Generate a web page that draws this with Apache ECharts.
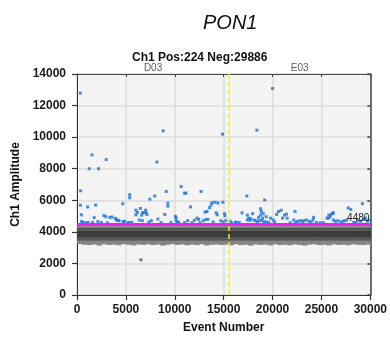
<!DOCTYPE html>
<html>
<head>
<meta charset="utf-8">
<script src="https://cdn.jsdelivr.net/npm/echarts@6/dist/echarts.min.js"></script>
<style>
html,body{margin:0;padding:0;background:#fff;}
#c{width:390px;height:339px;}
</style>
</head>
<body>
<div id="c"></div>
<script>
// ---- data ----
const xTicks = [0, 5000, 10000, 15000, 20000, 25000, 30000];
const yTicks = [0, 2000, 4000, 6000, 8000, 10000, 12000, 14000];
const threshold = 4480;
const wellBoundary = 15560;
const wellNames = ['D03', 'E03'];
const wellCenters = [7780, 22780];

// positive droplets (event number, amplitude)
const posX = [340,20000,8810,18400,14880,1525,2980,1250,2200,8170,
  370,10650,11000,11150,12680,9130,5390,5390,7450,7950,
  17370,19200,29190,4680,340,1090,1900,9290,9290,11610,
  13560,13730,13800,14100,14410,14920,27740,28000,
  440,470,640,920,1150,1590,1760,2140,2750,2950,
  3360,3590,3930,4030,4200,4300,4710,4880,5220,5320,
  6030,6030,6170,6480,6610,6710,6850,7020,7090,7150,
  6370,6680,7360,7600,8270,8980,10070,10140,10140,10270,
  10400,11320,11760,12000,12270,12440,12580,12920,13090,13190,
  13290,13390,13930,14240,14340,14710,14950,15090,15130,15220,
  15660,15800,16200,16340,16880,17420,17560,17420,17700,17770,
  17970,18100,18300,18440,18580,18640,18780,18780,18850,18920,
  18990,19050,19120,19320,19350,19800,20070,20210,20410,20610,
  20880,21020,21220,21430,21490,22170,22300,22370,22580,22850,
  23050,23190,23460,23730,23930,24130,24200,24880,25220,25560,
  25730,25760,25900,26000,26170,26200,26240,26440,26710,26980,
  27190,27390,27590,28750,29020,29290,29490,29700,29900,
  2500,3100,5600,8600,9600,11000,16600,19600,21800,24500,28300,28500];
const posY = [12790,13080,10400,10440,10190,8875,8580,8000,8000,8420,
  6600,6870,6440,6460,6560,6560,6360,6160,6070,6270,
  6270,6020,5780,5780,5690,5580,5700,5820,5630,5580,
  5540,5710,5850,5875,5830,5875,5520,5420,
  5080,4660,4600,4580,4600,4600,4900,4650,5040,4960,
  4920,4940,4850,4750,4730,4710,4650,4670,4580,4580,
  5375,5080,5230,5480,5060,5210,5230,5375,5210,5100,
  4750,4710,4620,4710,4810,5100,4980,4870,4710,4620,
  4600,4710,4580,4730,4870,4790,4580,4710,5250,4790,
  5290,4790,4620,5210,5080,4710,4620,5150,5020,4710,
  4670,4580,4620,4580,5210,5060,4870,4750,4730,4830,
  5150,4750,4710,4600,4920,4710,5460,5060,5290,4730,
  4870,5150,4600,4640,4960,4870,4750,4620,5100,5290,
  5370,4870,5060,5120,4870,4750,5290,4620,4670,4710,
  4620,4710,4750,4670,4620,4750,4920,4580,4580,4870,
  4870,5060,4960,5120,5170,5210,4750,4670,4710,4620,
  4670,4710,4750,4710,4670,4790,4870,4670,4750,
  4590,4580,4600,4590,4600,4580,4590,4600,4580,4590,4600,4580];

// negative droplets: binned band (bin start, bin end, ragged bottom edge)
const negBinStart = [0,500,1000,1500,2000,2500,3000,3500,4000,4500,5000,5500,6000,6500,7000,7500,8000,8500,9000,9500,
  10000,10500,11000,11500,12000,12500,13000,13500,14000,14500,15000,15500,16000,16500,17000,17500,18000,18500,19000,19500,
  20000,20500,21000,21500,22000,22500,23000,23500,24000,24500,25000,25500,26000,26500,27000,27500,28000,28500,29000,29500];
const negLow = [3250,3200,3180,3220,3150,3230,3190,3210,3170,3240,3200,3160,3220,3190,3230,3180,3210,3150,3200,3240,
  3190,3220,3170,3210,3180,3230,3160,3200,3220,3190,3210,3170,3240,3180,3200,3150,3220,3190,3210,3160,
  3230,3180,3200,3170,3220,3190,3150,3210,3230,3180,3200,3160,3220,3190,3210,3170,3230,3200,3180,3210];
const negLevels = [3450, 3650, 4100, 4300, 4420];
const negColors = ['#858585', '#595959', '#3b3b3b', '#565656', '#8f8f8f'];
const negOutX = [6540];
const negOutY = [2230];

// ---- chart ----
const chart = echarts.init(document.getElementById('c'), null, {renderer: 'canvas'});
const negData = negBinStart.map((s, i) => [s, s + 500, negLow[i]]);
const posData = posX.map((x, i) => [x, posY[i]]);
const negOut = negOutX.map((x, i) => [x, negOutY[i]]);
const wellData = wellNames.map((n, i) => ({name: n, value: [wellCenters[i], yTicks[yTicks.length - 1]]}));

const FONT = 'Liberation Sans, Arial, sans-serif';
const plain = v => String(v);

chart.setOption({
  animation: false,
  backgroundColor: '#ffffff',
  title: [
    {text: 'PON1', left: 198, top: 8, textStyle: {fontFamily: FONT, fontStyle: 'italic', fontWeight: 'normal', fontSize: 20, color: '#111'}},
    {text: 'Ch1 Pos:224 Neg:29886', left: 127, top: 47, textStyle: {fontFamily: FONT, fontWeight: 'bold', fontSize: 12, color: '#111'}}
  ],
  grid: {left: 77, right: 18, top: 74, bottom: 41, show: true, backgroundColor: '#f4f4f4', borderWidth: 0},
  xAxis: [
    {type: 'value', min: xTicks[0], max: xTicks[xTicks.length - 1], interval: 5000, position: 'bottom',
     axisLine: {show: true, onZero: false, lineStyle: {color: '#333', width: 1}},
     axisTick: {show: true, length: 5, lineStyle: {color: '#333', width: 1.2}},
     axisLabel: {fontFamily: FONT, fontWeight: 'bold', fontSize: 12, color: '#1a1a1a', margin: 9, formatter: plain},
     splitLine: {show: true, lineStyle: {color: '#dcdcdc', width: 1.5}},
     name: 'Event Number', nameLocation: 'middle', nameGap: 27,
     nameTextStyle: {fontFamily: FONT, fontWeight: 'bold', fontSize: 12, color: '#111'}},
    {type: 'value', min: xTicks[0], max: xTicks[xTicks.length - 1], interval: 5000, position: 'top',
     axisLine: {show: true, onZero: false, lineStyle: {color: '#444', width: 1}},
     axisTick: {show: true, inside: true, length: 3, lineStyle: {color: '#444'}},
     axisLabel: {show: false}, splitLine: {show: false}}
  ],
  yAxis: [
    {type: 'value', min: yTicks[0], max: yTicks[yTicks.length - 1], interval: 2000,
     axisLine: {show: true, onZero: false, lineStyle: {color: '#333', width: 1}},
     axisTick: {show: true, length: 5, lineStyle: {color: '#333', width: 1.2}},
     axisLabel: {fontFamily: FONT, fontWeight: 'bold', fontSize: 12, color: '#1a1a1a', margin: 11, formatter: plain},
     splitLine: {show: true, lineStyle: {color: '#dcdcdc', width: 1.5}},
     name: 'Ch1 Amplitude', nameLocation: 'middle', nameGap: 52, nameRotate: 90,
     nameTextStyle: {fontFamily: FONT, fontWeight: 'bold', fontSize: 12, color: '#111'}},
    {type: 'value', min: yTicks[0], max: yTicks[yTicks.length - 1], interval: 2000, position: 'right',
     axisLine: {show: true, onZero: false, lineStyle: {color: '#444', width: 1.5}},
     axisTick: {show: true, inside: true, length: 3, lineStyle: {color: '#444', width: 1.5}},
     axisLabel: {show: false}, splitLine: {show: false}}
  ],
  series: [
    {
      type: 'custom', name: 'negatives', z: 2, clip: true,
      data: negData,
      encode: {x: [0, 1], y: [2]},
      renderItem: function (params, api) {
        const x0 = api.value(0), x1 = api.value(1), low = api.value(2);
        const bounds = [low].concat(negLevels);
        const children = [];
        for (let i = 0; i < negLevels.length; i++) {
          const a = api.coord([x0, bounds[i + 1]]);
          const b = api.coord([x1, bounds[i]]);
          children.push({type: 'rect', shape: {x: a[0], y: a[1], width: b[0] - a[0] + 0.6, height: b[1] - a[1] + 0.3},
            style: {fill: negColors[i]}});
        }
        return {type: 'group', children: children};
      }
    },
    {
      type: 'scatter', name: 'neg outliers', z: 3, symbol: 'rect', symbolSize: 3,
      itemStyle: {color: '#5a5a5a'}, data: negOut
    },
    {
      type: 'scatter', name: 'positives', z: 4, symbol: 'rect', symbolSize: 3,
      itemStyle: {color: '#1874dc'}, data: posData,
      markLine: {
        silent: true, symbol: 'none', z: 5,
        data: [
          {yAxis: threshold, lineStyle: {color: '#f21df2', width: 3, type: 'solid'},
           label: {show: true, position: 'insideEndTop', formatter: String(threshold), fontFamily: FONT, fontSize: 10, color: '#222', distance: 1}},
          {xAxis: wellBoundary, lineStyle: {color: '#eeee30', width: 1.5, type: [5, 3], opacity: 1}, label: {show: false}}
        ]
      }
    },
    {
      type: 'scatter', name: 'wells', symbolSize: 0, clip: false, silent: true,
      data: wellData,
      label: {show: true, position: 'top', distance: 1, formatter: '{b}', fontFamily: FONT, fontSize: 10, color: '#333'}
    }
  ]
});
</script>
</body>
</html>
